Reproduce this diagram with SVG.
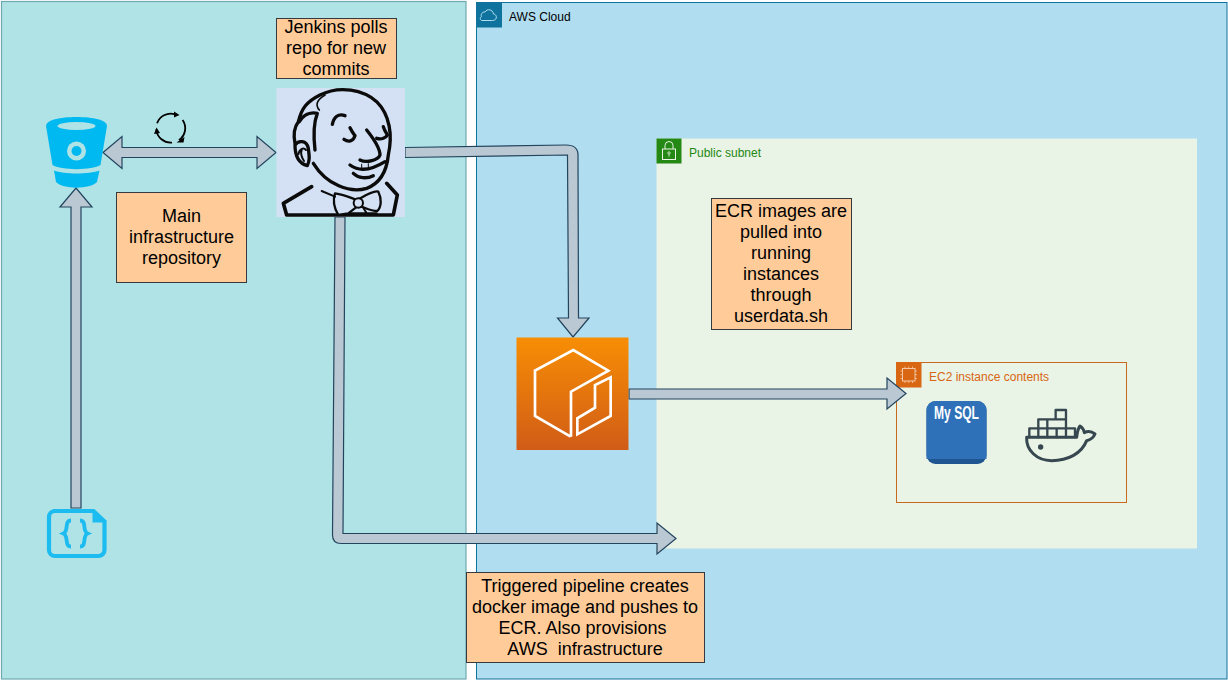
<svg xmlns="http://www.w3.org/2000/svg" width="1228" height="680" viewBox="0 0 1228 680">
<style>
text{font-family:"Liberation Sans",Arial,sans-serif}
.note rect{fill:#ffcc99;stroke:#36393d;stroke-width:1}
.note text{font-size:18px;text-anchor:middle;fill:#000;white-space:pre}
.lab{font-size:12px}
.conn{fill:#bac8d3;stroke:#23445d;stroke-width:1.2;stroke-linejoin:miter}
.jk{fill:none;stroke:#0b0b0b;stroke-width:10;stroke-linecap:round;stroke-linejoin:round}
.blue{fill:#00b9f1}
.ring{fill:none;stroke:#000;stroke-width:1.8}
</style>
<defs>
<linearGradient id="ecrGrad" x1="0" y1="0" x2="0" y2="1"><stop offset="0" stop-color="#f78e04"/><stop offset="1" stop-color="#d05c17"/></linearGradient>
</defs>
<rect width="1228" height="680" fill="#fff"/>
<g id="left-panel"><rect x="1.500" y="1.500" width="464.500" height="677.500" fill="#b0e3e6" stroke="#6fa9b0" stroke-width="1.200"/></g>
<g id="aws-cloud">
<rect x="476.500" y="2.500" width="750.500" height="676.500" fill="#b1ddf0" stroke="#10739e" stroke-width="1"/>
<rect x="476.500" y="2" width="25.500" height="25.500" fill="#10739e"/>
<path d="M482 20.500h10.500c5 0 5-6 1-6.500c-.8-5-6.500-5.500-8.500-2c-3-.5-4.500 3-3.500 4.500c-2 1-1.500 4 .5 4z" fill="none" stroke="#b1ddf0" stroke-width="1"/>
<text class="lab" x="509" y="21" fill="#000">AWS Cloud</text>
</g>
<g id="public-subnet">
<rect x="656.500" y="138.500" width="540.500" height="410" fill="#e9f3e6"/>
<rect x="656.500" y="138.500" width="25" height="25" fill="#248814"/>
<rect x="662.500" y="149" width="13" height="10.500" fill="none" stroke="#e9f3e6" stroke-width="1"/>
<path d="M665 149v-3.500a4 4 0 0 1 8 0v3.500" fill="none" stroke="#e9f3e6" stroke-width="1"/>
<circle cx="669" cy="153" r="1.200" fill="none" stroke="#e9f3e6" stroke-width=".8"/>
<path d="M669 154.200v2.500" stroke="#e9f3e6" stroke-width=".8"/>
<text class="lab" x="689" y="157" fill="#248814">Public subnet</text>
</g>
<g id="ec2-instance">
<rect x="896.500" y="362.500" width="230" height="140" fill="none" stroke="#c7691f" stroke-width="1"/>
<rect x="896" y="362" width="25.500" height="25.500" fill="#d86613"/>
<rect x="902.500" y="368.500" width="12.500" height="12.500" fill="none" stroke="#f5c9a8" stroke-width="1"/>
<path d="M905 366.500v2M908.700 366.500v2M912.500 366.500v2M905 381v2M908.700 381v2M912.500 381v2M900.500 371h2M900.500 374.700h2M900.500 378.500h2M915 371h2M915 374.700h2M915 378.500h2" stroke="#f5c9a8" stroke-width=".8"/>
<text class="lab" x="929" y="381" fill="#d86613">EC2 instance contents</text>
</g>
<g id="connectors">
<path class="conn" d="M103 152.500L122 136.500V147.500H257V136.500L276 152.500L257 168.500V157.500H122V168.500Z"/>
<path class="conn" d="M71 508V207H60L76 188L92 207H81V508Z"/>
<path class="conn" d="M405 147.500L566 145Q578 145 578 155L578.500 318H589L573 337L557.500 318H568.500L567.500 155L405 157.500Z"/>
<path class="conn" d="M629 389H887V378L906 393.500L887 409V399H629Z"/>
<path class="conn" d="M335 217H345L343 533.500H657V523L676 538.500L657 554V543.500H341Q332.500 543.500 332.500 535Z"/>
</g>
<g id="repo-icon">
<path class="blue" d="M46 126C46 120 60 117 76.500 117C93 117 107 120 107 126L100.500 165C92 170.500 61 170.500 52.500 165Z"/>
<ellipse cx="76.500" cy="126" rx="19" ry="4" fill="#b0e3e6"/>
<circle cx="76.500" cy="151" r="9.500" fill="#b0e3e6"/>
<circle cx="76.500" cy="151" r="5" class="blue"/>
<path class="blue" d="M54 170.500C64 174.500 89 174.500 99.500 170.500L97 182C90 189.500 63 189.500 56 182Z"/>
</g>
<g id="sync-icon">
<path class="ring" d="M157.100 123.200A14.500 14.500 0 0 1 174.500 114.200"/>
<path class="ring" d="M182.600 119.900A14.500 14.500 0 0 1 179 140.100"/>
<path class="ring" d="M172 142.600A14.500 14.500 0 0 1 156.300 129.500"/>
<path d="M179.500 115L174 111.500V117.500Z M176.500 142.500L184.500 137L183.500 142.500Z M156.500 127.500L154 134L160 133Z" fill="#000"/>
</g>
<g id="jenkins-icon">
<rect x="276.500" y="88" width="128.500" height="129" fill="#d4e1f5"/>
<g transform="translate(270 85) scale(.3333)">
<path class="jk" d="M130 235C170 300 240 325 290 310C330 295 350 260 355 210C368 150 360 90 320 50C280 15 210 0 150 30C110 50 95 70 85 110C70 130 72 160 75 175"/>
<path class="jk" d="M88 110C100 90 120 80 142 85C132 110 130 150 135 195"/>
<path class="jk" style="stroke-width:5" d="M148 75C135 60 140 45 165 30"/>
<path class="jk" d="M75 180C85 165 110 165 115 190C118 215 120 225 112 242C85 235 75 210 75 180"/>
<path class="jk" style="stroke-width:6" d="M85 208C88 192 100 186 108 195M95 195C90 210 98 222 102 228"/>
<path class="jk" d="M187 118C192 95 205 85 225 92"/>
<path class="jk" d="M222 163C235 172 250 170 255 152M240 128C246 140 252 148 255 152"/>
<path class="jk" d="M320 160C335 165 348 158 352 150M340 125C345 140 350 145 352 150"/>
<path class="jk" d="M290 135C310 160 330 190 330 210C325 225 290 235 270 225"/>
<path class="jk" d="M240 240C270 262 310 252 345 230"/>
<path class="jk" d="M250 265C265 280 290 282 310 272"/>
<path class="jk" style="stroke-width:3" d="M275 238v18M295 236v16"/>
<path class="jk" style="stroke-width:11" d="M125 305L40 355L50 390H370L382 330L350 295"/>
<path d="M195 325C230 330 255 345 262 345C280 335 310 315 325 320C335 340 335 365 322 378C300 378 280 365 265 362L235 385L205 390C190 365 190 340 195 325Z" fill="#d4e1f5" stroke="#0b0b0b" stroke-width="7" stroke-linejoin="round"/>
<circle cx="265" cy="354" r="14" fill="#d4e1f5" stroke="#0b0b0b" stroke-width="6"/>
<path class="jk" style="stroke-width:6" d="M155 318L195 335M240 385L320 385M280 368L290 385"/>
</g>
</g>
<g id="code-icon">
<path d="M53 511H93.500L104.500 521.500V550a6 6 0 0 1-6 6H55a6 6 0 0 1-6-6V517a6 6 0 0 1 6-6Z" fill="none" stroke="#1cbcf0" stroke-width="4.200"/>
<path d="M92.500 509.500L106.500 522.500H92.500Z" fill="#1cbcf0"/>
<path d="M71 520.500C64 520.500 69 531 63.500 533.500C69 536 64 546.500 71 546.500M80 520.500C87 520.500 82 531 87.500 533.500C82 536 87 546.500 80 546.500" fill="none" stroke="#1cbcf0" stroke-width="3.800"/>
</g>
<g id="ecr-icon">
<rect x="516.500" y="337.500" width="112" height="112.500" fill="url(#ecrGrad)"/>
<g transform="translate(500 320) scale(.3333)" fill="none" stroke="#fff" stroke-width="8">
<path d="M212 350L105 288V152L220 90L325 152L213 215V350"/>
<path d="M232 343V295L285 263V195L332 172V288Z"/>
</g>
</g>
<g id="mysql-icon">
<rect x="926.500" y="401" width="60" height="63" rx="9" fill="#1f5590"/>
<path d="M935.500 401H977.500a9 9 0 0 1 9 9V459H926.500V410a9 9 0 0 1 9-9Z" fill="#2e71b8"/>
<text x="956.500" y="419" font-size="17.500" font-weight="700" fill="#fff" text-anchor="middle" textLength="45" lengthAdjust="spacingAndGlyphs">My SQL</text>
</g>
<g id="docker-icon">
<g transform="translate(880 350) scale(.3333)" fill="none" stroke="#36474f" stroke-width="9" stroke-linejoin="round" stroke-linecap="round">
<path d="M440 262H590C592 250 592 238 600 228C606 232 612 240 613 248C622 243 634 243 645 252C640 264 630 270 620 272C605 310 565 332 515 332C470 332 438 300 440 262Z"/>
<path stroke-width="7" d="M448 262V235H585V262M475 235V208H558V235M527 208V180H558V208M475 235V262M502 208V262M530 235V262M558 235V262"/>
<circle cx="482" cy="291" r="8" fill="#36474f" stroke="none"/>
</g>
</g>
<g id="note-jenkins" class="note"><rect x="276.500" y="18.500" width="120" height="60"/>
<text x="336" y="33">Jenkins polls</text><text x="336" y="54">repo for new</text><text x="336" y="75">commits</text></g>
<g id="note-main" class="note"><rect x="116.500" y="192.500" width="130" height="90"/>
<text x="181.500" y="222">Main</text><text x="181.500" y="243">infrastructure</text><text x="181.500" y="264">repository</text></g>
<g id="note-ecr" class="note"><rect x="711.500" y="198.500" width="140" height="131"/>
<text x="781" y="217">ECR images are</text><text x="781" y="238">pulled into</text><text x="781" y="259">running</text><text x="781" y="280">instances</text><text x="781" y="301">through</text><text x="781" y="322">userdata.sh</text></g>
<g id="note-pipeline" class="note"><rect x="466.500" y="572.500" width="238" height="90"/>
<text x="585" y="592">Triggered pipeline creates</text><text x="585" y="613">docker image and pushes to</text><text x="582.500" y="634">ECR. Also provisions</text><text x="585" y="655">AWS  infrastructure</text></g>
</svg>
